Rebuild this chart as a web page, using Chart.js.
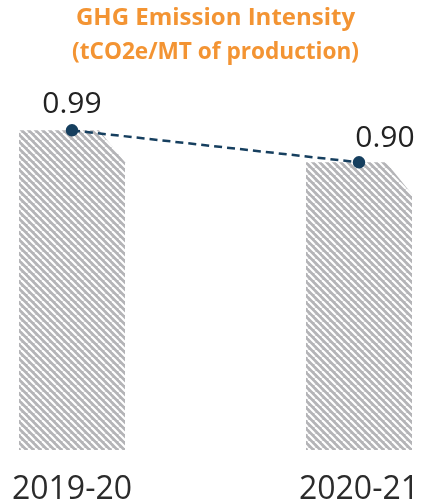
<!DOCTYPE html>
<html>
<head>
<meta charset="utf-8">
<script src="https://cdn.jsdelivr.net/npm/chart.js@4"></script>
<style>
  html, body { margin: 0; padding: 0; background: #fff; }
  #wrap { width: 422px; height: 503px; }
</style>
</head>
<body>
<div id="wrap"><canvas id="c" width="422" height="503"></canvas></div>
<script>
// ── Data ───────────────────────────────────────────────────
const years = ['2019-20', '2020-21'];
const intensity = [0.99, 0.90];
const titleLines = ['GHG Emission Intensity', '(tCO2e/MT of production)'];

// ── Hatch pattern (grey with white "\" stripes) ────────────
function hatch() {
  const s = 7;
  const p = document.createElement('canvas');
  p.width = s; p.height = s;
  const g = p.getContext('2d');
  g.fillStyle = '#b4b4b7';
  g.fillRect(0, 0, s, s);
  g.strokeStyle = '#ffffff';
  g.lineWidth = 2.2;
  for (const o of [-s, 0, s]) {
    g.beginPath();
    g.moveTo(o, 0);
    g.lineTo(o + s, s);
    g.stroke();
  }
  return g.createPattern(p, 'repeat');
}

// bars drawn as columns with the top-right corner cut off
const chamferBars = {
  id: 'chamferBars',
  beforeDatasetDraw(chart, args, opts) {
    if (chart.data.datasets[args.index].type !== 'bar') return;
    const ctx = chart.ctx;
    const floor = chart.chartArea.bottom;
    ctx.save();
    ctx.fillStyle = opts.fill;
    args.meta.data.forEach(bar => {
      const l = bar.x - bar.width / 2, r = bar.x + bar.width / 2;
      const b = Math.min(bar.base, floor);
      ctx.beginPath();
      ctx.moveTo(l, b);
      ctx.lineTo(l, bar.y);
      ctx.lineTo(r - opts.cutX, bar.y);
      ctx.lineTo(r, bar.y + opts.cutY);
      ctx.lineTo(r, b);
      ctx.closePath();
      ctx.fill();
    });
    ctx.restore();
    return false;
  }
};

// value labels above the line points
const valueLabels = {
  id: 'valueLabels',
  afterDatasetsDraw(chart, args, opts) {
    const ctx = chart.ctx;
    chart.data.datasets.forEach((ds, i) => {
      if (ds.type !== 'line') return;
      const meta = chart.getDatasetMeta(i);
      ctx.save();
      ctx.font = opts.font;
      ctx.fillStyle = opts.color;
      ctx.textAlign = 'center';
      ctx.textBaseline = 'alphabetic';
      meta.data.forEach((pt, j) => {
        const [dx, dy] = opts.shift[j] || [0, -16];
        ctx.fillText(ds.data[j].toFixed(2), pt.x + dx, pt.y + dy);
      });
      ctx.restore();
    });
  }
};

new Chart(document.getElementById('c'), {
  data: {
    labels: years,
    datasets: [
      {
        type: 'line',
        data: intensity,
        borderColor: '#163f5f',
        backgroundColor: '#163f5f',
        borderWidth: 2.5,
        borderDash: [8, 5],
        pointRadius: 5,
        pointHoverRadius: 5,
        tension: 0,
        order: 1,
        clip: false,
      },
      {
        type: 'bar',
        data: intensity,
        barThickness: 106,
        backgroundColor: '#b4b4b7',
        order: 2,
        clip: false,
      },
    ],
  },
  options: {
    responsive: false,
    animation: false,
    layout: { padding: { left: 72, right: 63, top: 0, bottom: 0 } },
    plugins: {
      legend: { display: false },
      tooltip: { enabled: false },
      title: {
        display: true,
        text: titleLines,
        color: '#f39433',
        font: { family: "'Open Sans'", size: 24, weight: 'bold', lineHeight: '34px' },
        padding: { top: 1.5, bottom: 0.5 },
      },
      chamferBars: { fill: hatch(), cutX: 26, cutY: 32 },
      valueLabels: {
        font: "30px 'Open Sans'",
        color: '#222222',
        shift: [[0, -17], [26, -15]],
      },
    },
    scales: {
      x: {
        offset: false,
        grid: { display: false, drawTicks: false },
        border: { display: false },
        afterFit(scale) { scale.height = 53; },
        ticks: {
          color: '#2b2b2b',
          padding: 0,
          maxRotation: 0,
          font: { family: "'Open Sans'", size: 32, lineHeight: '80px' },
        },
      },
      y: {
        display: false,
        min: 0.09,
        max: 1.16,
      },
    },
  },
  plugins: [chamferBars, valueLabels],
});
</script>
</body>
</html>
